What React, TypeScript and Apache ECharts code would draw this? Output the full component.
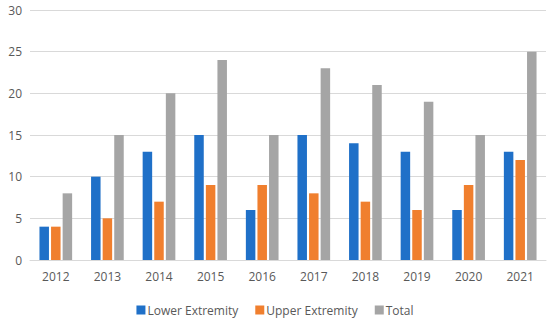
import React, { useEffect, useRef } from "react";
import * as echarts from "echarts";

const years = ["2012", "2013", "2014", "2015", "2016", "2017", "2018", "2019", "2020", "2021"];
const lowerExtremity = [4, 10, 13, 15, 6, 15, 14, 13, 6, 13];
const upperExtremity = [4, 5, 7, 9, 9, 8, 7, 6, 9, 12];
const total = [8, 15, 20, 24, 15, 23, 21, 19, 15, 25];

export default function App() {
  const ref = useRef<HTMLDivElement>(null);
  useEffect(() => {
    const chart = echarts.init(ref.current!, null, { renderer: "svg" });
    const font = "Open Sans, Liberation Sans, Arial, sans-serif";
    const mk = (name: string, data: number[], color: string) => ({
      name,
      type: "bar",
      data,
      barWidth: 9.5,
      barGap: "22%",
      itemStyle: { color },
    });
    chart.setOption({
      animation: false,
      textStyle: { fontFamily: font },
      grid: { left: 30, right: 4, top: 10, bottom: 64 },
      xAxis: {
        type: "category",
        data: years,
        axisLine: { lineStyle: { color: "#d9d9d9" } },
        axisTick: { show: false },
        axisLabel: { color: "#595959", fontSize: 12, margin: 10, fontFamily: font },
      },
      yAxis: {
        type: "value",
        min: 0,
        max: 30,
        interval: 5,
        splitLine: { lineStyle: { color: "#d9d9d9" } },
        axisLabel: { color: "#595959", fontSize: 12, margin: 8, fontFamily: font },
      },
      legend: {
        top: 299,
        left: "center",
        itemWidth: 9,
        itemHeight: 9,
        itemGap: 17,
        icon: "rect",
        textStyle: { color: "#595959", fontSize: 12, padding: [0, 0, 0, -3], fontFamily: font },
        data: ["Lower Extremity", "Upper Extremity", "Total"],
      },
      series: [
        mk("Lower Extremity", lowerExtremity, "#1f70c8"),
        mk("Upper Extremity", upperExtremity, "#f07f2e"),
        mk("Total", total, "#a5a5a5"),
      ],
    });
    return () => chart.dispose();
  }, []);
  return <div ref={ref} style={{ width: 550, height: 324, position: "absolute", left: 0, top: 0 }} />;
}
